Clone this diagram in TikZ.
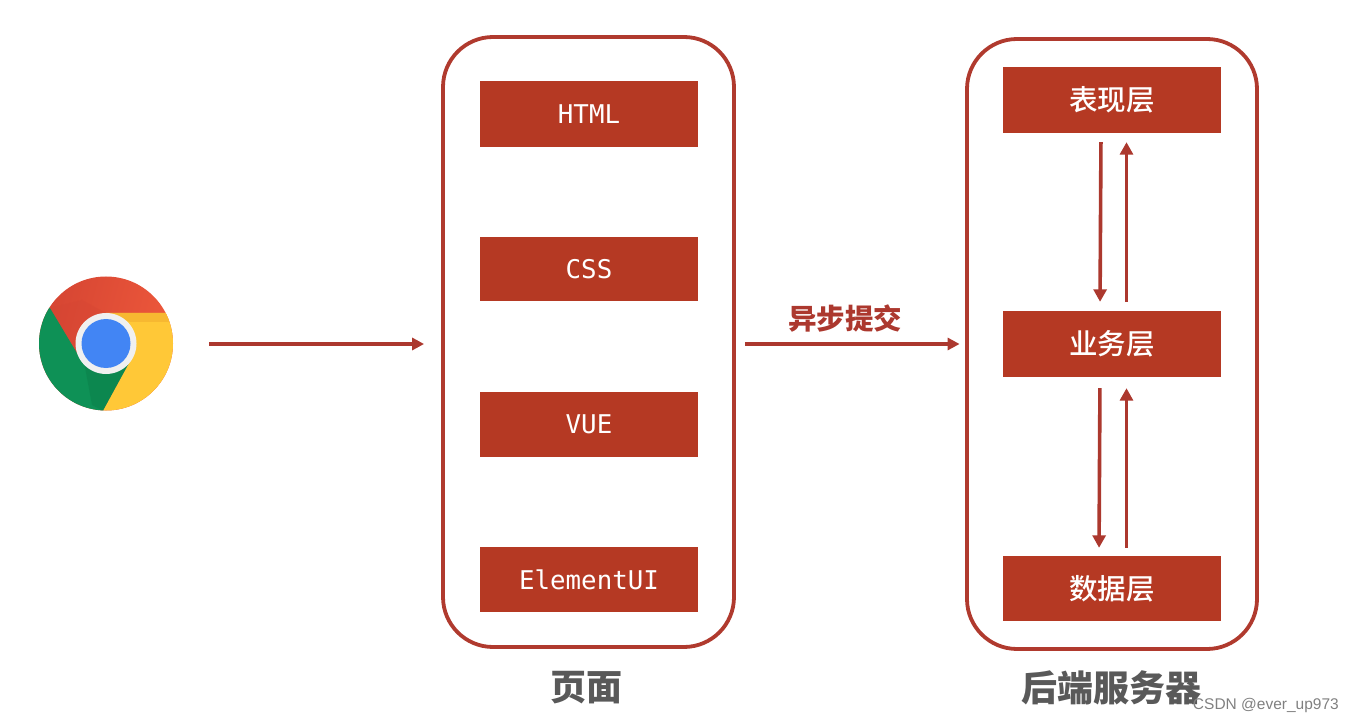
\documentclass[tikz,border=0pt]{standalone}
\usepackage{fontspec}
\usetikzlibrary{arrows.meta,positioning,calc}
\newfontfamily\cjkfont{Noto Sans CJK SC}[BoldFont={Noto Sans CJK SC Black}]
\newfontfamily\cjkmedium{Noto Sans CJK SC Medium}
\newfontfamily\monofont{DejaVu Sans Mono}
\newfontfamily\markfont{Liberation Sans}
\definecolor{boxred}{RGB}{181,57,35}
\definecolor{framered}{RGB}{176,58,46}
\definecolor{arrowred}{RGB}{172,56,46}
\definecolor{labelgrey}{RGB}{89,89,89}
\definecolor{chromered}{RGB}{240,90,60}
\definecolor{chromereddk}{RGB}{212,68,50}
\definecolor{chromegreen}{RGB}{14,145,86}
\definecolor{chromegreendk}{RGB}{10,115,65}
\definecolor{chromeyellow}{RGB}{255,200,55}
\definecolor{chromeorange}{RGB}{240,170,45}
\definecolor{chromeblue}{RGB}{66,133,244}
\tikzset{
  panel/.style={draw=framered,line width=3.8pt,rounded corners=50pt,fill=white,inner sep=0pt},
  redbox/.style={fill=boxred,minimum width=218pt,inner sep=0pt,text=white},
  monotext/.style={font=\monofont\fontsize{25.8}{28}\selectfont},
  cjktext/.style={font=\cjkmedium\fontsize{28.5}{32}\selectfont},
  flow/.style={draw=arrowred,line width=4pt,-{Triangle[length=12pt,width=12pt]}},
  updown/.style={draw=arrowred,line width=3.6pt,-{Triangle[length=12.5pt,width=13pt]}},
  caption/.style={font=\cjkfont\bfseries\fontsize{36}{40}\selectfont,text=labelgrey},
}
\begin{document}
\begin{tikzpicture}[x=1pt,y=-1pt]
\useasboundingbox (0,0) rectangle (1353,722);
% browser icon
\node[circle,minimum size=134pt,inner sep=0pt] (chrome) at (106,343.5) {};
\begin{scope}
  \clip (106,343.5) circle (67);
  \shade[left color=chromereddk,right color=chromered,shading angle=75]
    (30,270) rectangle (180,420);
  \fill[chromegreen] (50,308) -- (80,358) -- (132,358) -- (103,411) -- (30,420) -- (30,300) -- cycle;
  \fill[chromegreendk,opacity=.3] (84,362) -- (130,360) -- (103,411) -- (92,405) -- cycle;
  \fill[chromeyellow] (106,313) -- (180,313) -- (180,420) -- (103,420) -- (103,411) -- (132,358) -- cycle;
  \fill[chromeorange,opacity=.5] (106,313) -- (166,313) -- (171,322) -- (130,322) -- cycle;
  \fill[chromereddk,opacity=.3] (50,308) -- (80,358) -- (84,330) -- (106,313) -- (82,300) -- cycle;
\end{scope}
\fill[white!94!black] (106,343.5) circle (30.5);
\fill[chromeblue] (106,343.5) circle (24.5);
% panels
\node[panel,minimum width=291pt,minimum height=610pt] (page) at (588.5,342) {};
\node[panel,minimum width=290pt,minimum height=610pt] (server) at (1112,344) {};
% page boxes
\node[redbox,monotext,minimum height=66pt] (html) at (589,114) {HTML};
\node[redbox,monotext,minimum height=64pt] (css) at (589,269) {CSS};
\node[redbox,monotext,minimum height=65pt] (vue) at (589,424.5) {VUE};
\node[redbox,monotext,minimum height=65pt] (element) at (589,579.5) {ElementUI};
% server boxes
\node[redbox,cjktext,minimum height=66pt] (present) at (1112,100) {表现层};
\node[redbox,cjktext,minimum height=66pt] (business) at (1112,344) {业务层};
\node[redbox,cjktext,minimum height=65pt] (data) at (1112,588.5) {数据层};
% captions
\node[caption] (pagecap) at (586,688) {页面};
\node[caption] (servercap) at (1111.5,688) {后端服务器};
% connectors
\draw[flow,shorten <=36pt,shorten >=17pt] (chrome.east |- business) -- (page.west |- business);
\draw[flow,shorten <=9pt,shorten >=5.5pt] (page.east |- business) -- node[above=6pt,xshift=-5.5pt,font=\cjkfont\bfseries\fontsize{28.5}{32}\selectfont,text=arrowred] (submit) {异步提交} (server.west |- business);
\draw[updown,shorten <=9pt,shorten >=9pt] ([xshift=-11pt]present.south) -- ([xshift=-12pt]business.north);
\draw[updown,shorten <=9pt,shorten >=9pt] ([xshift=14.5pt]business.north) -- ([xshift=14.5pt]present.south);
\draw[updown,shorten <=11pt,shorten >=8pt] ([xshift=-12pt]business.south) -- ([xshift=-13pt]data.north);
\draw[updown,shorten <=8pt,shorten >=11pt] ([xshift=14.5pt]data.north) -- ([xshift=14.5pt]business.south);
% watermark
\node[font=\markfont\fontsize{15.5}{18}\selectfont,text=black!50,anchor=east,inner sep=0pt] (mark) at (1339,705) {CSDN @ever\_up973};
\end{tikzpicture}
\end{document}
